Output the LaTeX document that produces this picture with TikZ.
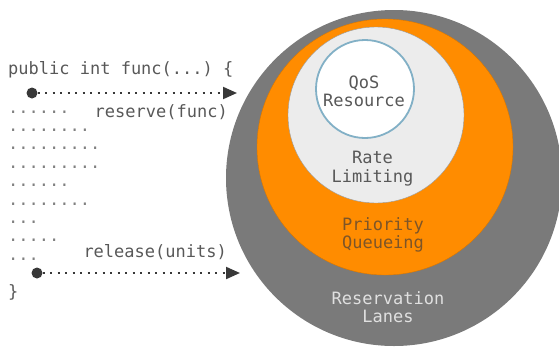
\documentclass[tikz,border=0pt]{standalone}
\usepackage{fontspec}
\setmonofont{DejaVu Sans Mono}
\usetikzlibrary{arrows.meta}
\definecolor{lanegray}{RGB}{122,122,122}
\definecolor{prioorange}{RGB}{255,140,0}
\definecolor{ratefill}{RGB}{236,236,236}
\definecolor{qosblue}{RGB}{130,176,198}
\definecolor{codegray}{RGB}{88,88,88}
\definecolor{priotext}{RGB}{125,85,40}
\newcommand\codedots[1]{\foreach \k in {1,...,#1}{.}}

\begin{document}
\begin{tikzpicture}[
    x=1pt, y=-1pt,
    ring/.style={circle, inner sep=0pt},
    code/.style={inner sep=0pt, font=\ttfamily\fontsize{17}{18.5}\selectfont, text=codegray},
    lbl/.style={inner sep=0pt, align=center, font=\ttfamily\fontsize{17}{18.5}\selectfont},
    startdot/.style={circle, fill=black!78, inner sep=0pt, minimum size=11pt},
    flow/.style={-{Triangle[length=14pt, width=12pt]}, black!78, line width=2pt, dash pattern=on 2pt off 5.5pt}
]
\useasboundingbox (0,0) rectangle (559,346);

% nested rings
\node[ring, fill=lanegray, minimum size=336pt] (lanes) at (394,178) {};
\node[ring, fill=prioorange, draw=prioorange!85!black, minimum size=256pt] (queue) at (385,147) {};
\node[ring, fill=ratefill, draw=black!40, minimum size=176pt] (rate) at (376,115) {};
\node[ring, fill=white, draw=qosblue, line width=1.8pt, minimum size=98pt] (qos) at (365,89) {};

\node[lbl, text=codegray] (qoslbl) at (364,91.5) {QoS\\Resource};
\node[lbl, text=codegray] (ratelbl) at (372.5,168.5) {Rate\\Limiting};
\node[lbl, text=priotext] (queuelbl) at (383,235) {Priority\\Queueing};
\node[lbl, text=black!12] (laneslbl) at (388,307) {Reservation\\Lanes};

% code on the left
\node[code, anchor=base west] (head) at (8,74) {public int func(...) \{};
\foreach \n [count=\i] in {6,8,9,9,6,8,3,5,3}
    \node[code, anchor=base west, text=black!50] (row\i) at (8,{94.6+18.4*\i}) {\codedots{\n}};
\node[code, anchor=base west] (close) at (8,297) {\}};
\node[code, anchor=base east] (reserve) at (228,117) {reserve(func)};
\node[code, anchor=base east] (release) at (227,257) {release(units)};

\node[startdot] (in) at (32,93) {};
\coordinate (intip) at (237,93);
\draw[flow] (in) -- (intip);
\node[startdot] (out) at (37,273) {};
\coordinate (outtip) at (240,273);
\draw[flow] (out) -- (outtip);
\end{tikzpicture}
\end{document}
